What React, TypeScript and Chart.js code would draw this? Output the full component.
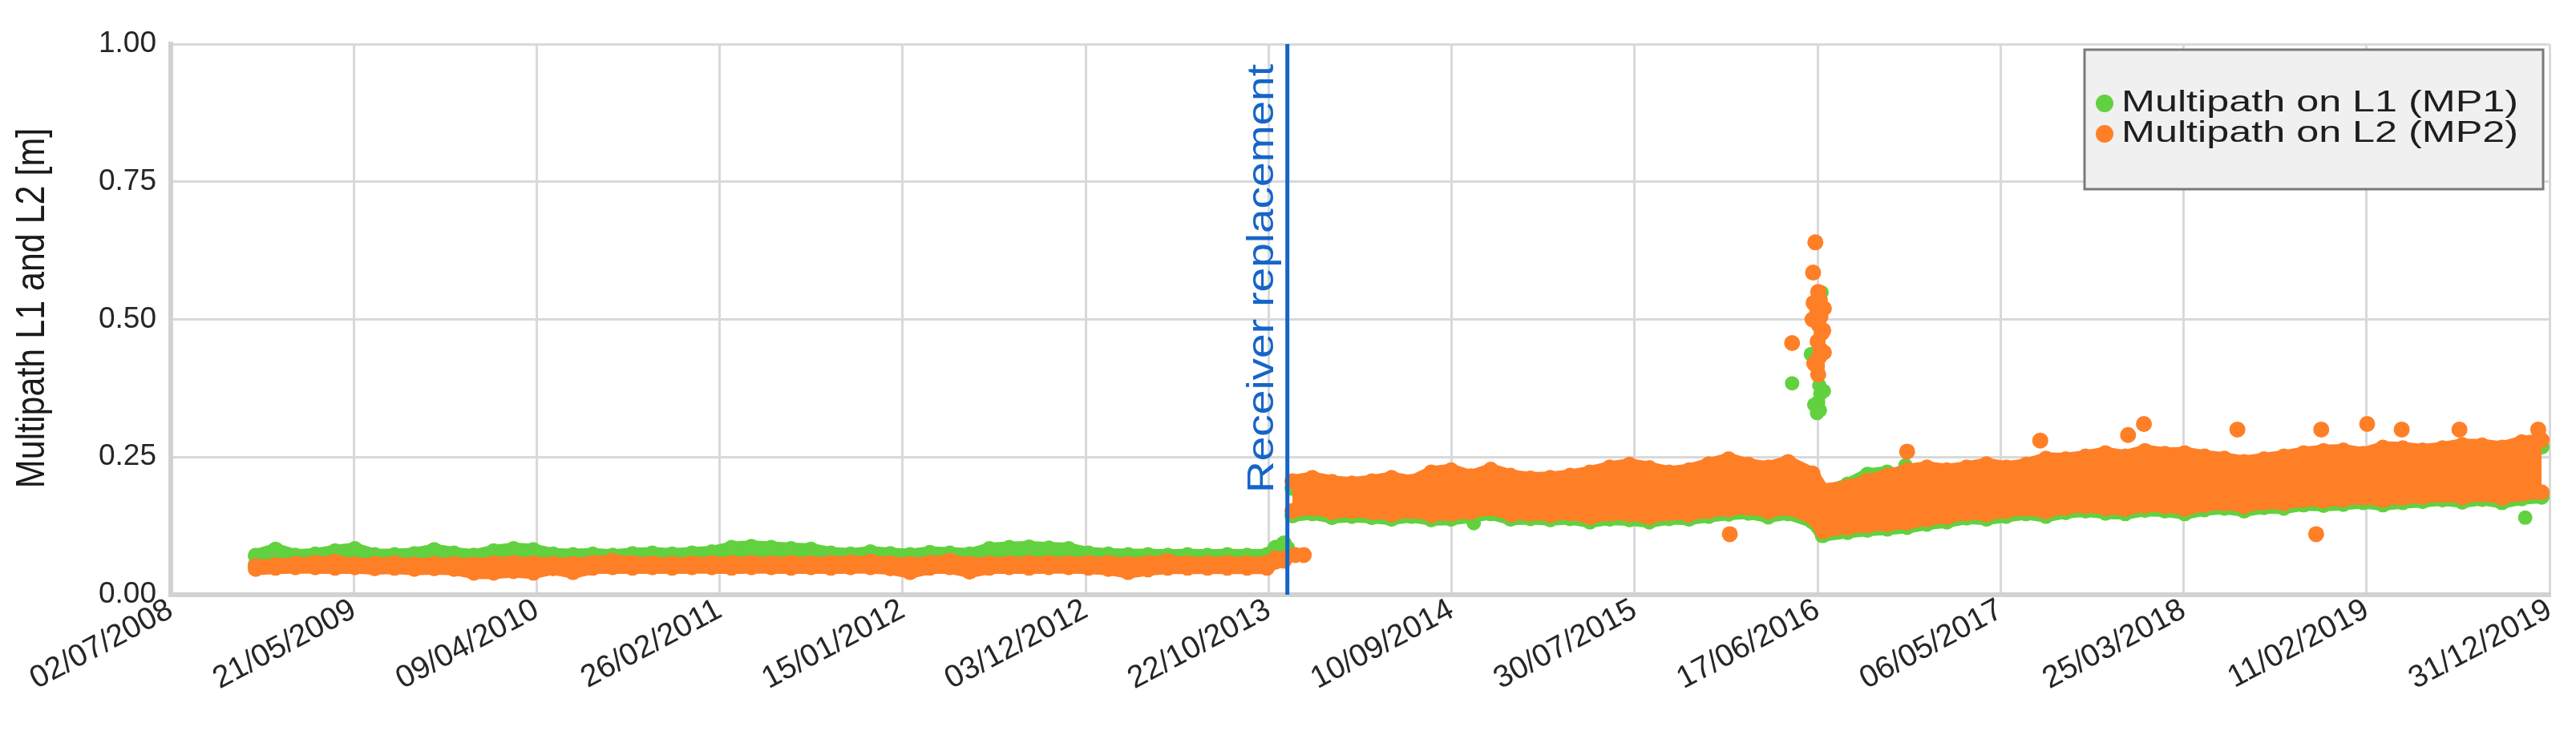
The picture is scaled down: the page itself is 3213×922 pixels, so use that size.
import React, { useEffect, useRef } from "react";
import { Chart, registerables } from "chart.js";

Chart.register(...registerables);

// ---------- text / categories ----------
const tickDates = [
  "02/07/2008", "21/05/2009", "09/04/2010", "26/02/2011", "15/01/2012",
  "03/12/2012", "22/10/2013", "10/09/2014", "30/07/2015", "17/06/2016",
  "06/05/2017", "25/03/2018", "11/02/2019", "31/12/2019",
];
const yTicks = [0, 0.25, 0.5, 0.75, 1];
const yTitle = "Multipath L1 and L2 [m]";
const seriesNames = ["Multipath on L1 (MP1)", "Multipath on L2 (MP2)"];
const seriesColors = ["#62d13f", "#ff7f27"];
const replacementDay = 1971; // days after 02/07/2008
const replacementLabel = "Receiver replacement";

// ---------- data: days after 02/07/2008 ----------
const preDays = [
  150, 185, 220, 255, 290, 325, 360, 395, 430, 465, 500, 535, 570, 605, 640, 675, 710, 745, 780, 815,
  850, 885, 920, 955, 990, 1025, 1060, 1095, 1130, 1165, 1200, 1235, 1270, 1305, 1340, 1375, 1410, 1445, 1480, 1515,
  1550, 1585, 1620, 1655, 1690, 1725, 1760, 1795, 1830, 1865, 1900, 1935, 1950, 1965,
];
const mp2PreLo = [
  0.047, 0.049, 0.05, 0.05, 0.049, 0.05, 0.048, 0.049, 0.047, 0.048, 0.047, 0.04, 0.04, 0.043, 0.04, 0.048, 0.041, 0.049, 0.05, 0.049,
  0.05, 0.049, 0.05, 0.05, 0.049, 0.05, 0.05, 0.049, 0.05, 0.049, 0.05, 0.05, 0.048, 0.041, 0.049, 0.05, 0.042, 0.049, 0.05, 0.049,
  0.05, 0.05, 0.049, 0.047, 0.041, 0.046, 0.049, 0.049, 0.049, 0.049, 0.049, 0.049, 0.06, 0.062,
];
const mp2PreHi = [
  0.052, 0.054, 0.056, 0.058, 0.06, 0.055, 0.056, 0.057, 0.055, 0.056, 0.056, 0.055, 0.057, 0.058, 0.057, 0.056, 0.056, 0.058, 0.062, 0.058,
  0.057, 0.056, 0.057, 0.057, 0.058, 0.058, 0.057, 0.058, 0.057, 0.058, 0.059, 0.06, 0.057, 0.056, 0.058, 0.062, 0.056, 0.057, 0.057, 0.058,
  0.058, 0.057, 0.058, 0.058, 0.056, 0.058, 0.061, 0.057, 0.057, 0.058, 0.057, 0.058, 0.066, 0.066,
];
const mp1PreLo = [
  0.055, 0.056, 0.056, 0.056, 0.057, 0.057, 0.056, 0.056, 0.056, 0.056, 0.056, 0.055, 0.055, 0.056, 0.056, 0.056, 0.056, 0.057, 0.057, 0.057,
  0.057, 0.057, 0.057, 0.057, 0.058, 0.058, 0.058, 0.058, 0.058, 0.057, 0.057, 0.057, 0.057, 0.056, 0.057, 0.057, 0.056, 0.058, 0.058, 0.058,
  0.058, 0.058, 0.057, 0.057, 0.056, 0.056, 0.057, 0.057, 0.057, 0.057, 0.057, 0.057, 0.062, 0.066,
];
const mp1PreHi = [
  0.071, 0.082, 0.071, 0.073, 0.079, 0.083, 0.072, 0.072, 0.074, 0.081, 0.075, 0.071, 0.079, 0.083, 0.081, 0.073, 0.072, 0.073, 0.071, 0.074,
  0.075, 0.073, 0.075, 0.077, 0.085, 0.087, 0.085, 0.083, 0.082, 0.075, 0.073, 0.077, 0.074, 0.072, 0.076, 0.075, 0.073, 0.083, 0.085, 0.086,
  0.084, 0.083, 0.075, 0.073, 0.072, 0.072, 0.071, 0.072, 0.071, 0.072, 0.071, 0.072, 0.085, 0.093,
];

const postDays = [
  1980, 2015, 2050, 2085, 2120, 2155, 2190, 2225, 2260, 2295, 2330, 2365, 2400, 2435, 2470, 2505, 2540, 2575, 2610, 2645,
  2680, 2715, 2750, 2785, 2820, 2855, 2898, 2916, 2960, 2995, 3030, 3065, 3100, 3135, 3170, 3205, 3240, 3275, 3310, 3345,
  3380, 3415, 3450, 3485, 3520, 3555, 3590, 3625, 3660, 3695, 3730, 3765, 3800, 3835, 3870, 3905, 3940, 3975, 4010, 4045,
  4080, 4115, 4150, 4185,
];
const mp2PostLo = [
  0.152, 0.157, 0.15, 0.152, 0.15, 0.146, 0.152, 0.145, 0.147, 0.15, 0.157, 0.146, 0.147, 0.145, 0.148, 0.141, 0.147, 0.146, 0.141, 0.148,
  0.146, 0.152, 0.155, 0.158, 0.151, 0.157, 0.14, 0.115, 0.122, 0.126, 0.128, 0.131, 0.137, 0.141, 0.148, 0.146, 0.152, 0.156, 0.151, 0.158,
  0.161, 0.157, 0.156, 0.162, 0.161, 0.156, 0.163, 0.166, 0.161, 0.167, 0.166, 0.172, 0.171, 0.173, 0.176, 0.172, 0.176, 0.178, 0.181, 0.177,
  0.182, 0.176, 0.183, 0.186,
];
const mp2PostHi = [
  0.206, 0.212, 0.205, 0.202, 0.206, 0.212, 0.205, 0.222, 0.226, 0.215, 0.227, 0.216, 0.211, 0.212, 0.216, 0.222, 0.231, 0.236, 0.23, 0.222,
  0.226, 0.237, 0.246, 0.236, 0.231, 0.241, 0.22, 0.19, 0.196, 0.207, 0.216, 0.226, 0.231, 0.226, 0.231, 0.237, 0.231, 0.236, 0.247, 0.246,
  0.251, 0.257, 0.251, 0.261, 0.256, 0.257, 0.251, 0.247, 0.241, 0.246, 0.251, 0.257, 0.261, 0.262, 0.256, 0.267, 0.266, 0.262, 0.266, 0.272,
  0.271, 0.267, 0.277, 0.281,
];
const mp1PostLo = [
  0.144, 0.148, 0.141, 0.143, 0.141, 0.138, 0.143, 0.137, 0.138, 0.142, 0.148, 0.138, 0.139, 0.137, 0.139, 0.133, 0.138, 0.137, 0.133, 0.139,
  0.138, 0.143, 0.147, 0.149, 0.142, 0.148, 0.133, 0.108, 0.114, 0.118, 0.12, 0.123, 0.129, 0.133, 0.14, 0.138, 0.143, 0.148, 0.143, 0.15,
  0.153, 0.149, 0.148, 0.154, 0.153, 0.148, 0.155, 0.158, 0.153, 0.159, 0.158, 0.164, 0.163, 0.165, 0.168, 0.164, 0.168, 0.17, 0.173, 0.169,
  0.174, 0.168, 0.175, 0.178,
];
const mp1PostHi = [
  0.194, 0.2, 0.193, 0.19, 0.194, 0.2, 0.193, 0.21, 0.214, 0.203, 0.215, 0.204, 0.199, 0.2, 0.204, 0.21, 0.219, 0.224, 0.218, 0.21,
  0.214, 0.225, 0.234, 0.224, 0.219, 0.229, 0.208, 0.185, 0.2, 0.218, 0.222, 0.214, 0.219, 0.214, 0.219, 0.225, 0.219, 0.224, 0.235, 0.234,
  0.239, 0.245, 0.239, 0.249, 0.244, 0.245, 0.239, 0.235, 0.229, 0.234, 0.239, 0.245, 0.249, 0.25, 0.244, 0.255, 0.254, 0.25, 0.254, 0.26,
  0.259, 0.255, 0.265, 0.269,
];

// individual scattered points (outliers / spike of June 2016)
const mp2OutDays = [
  1985, 2000, 2752, 2903, 2899, 2908, 2911, 2906, 2912, 2909, 2914, 2907, 2912, 2909, 2906, 2908, 2862,
  2918, 2917, 2918, 2900, 2898, 2901,
  3065, 3300, 3455, 3483, 3648, 3787, 3796, 3877, 3938, 4040, 4179,
];
const mp2OutVals = [
  0.072, 0.072, 0.11, 0.64, 0.585, 0.55, 0.535, 0.52, 0.505, 0.49, 0.475, 0.46, 0.445, 0.43, 0.415, 0.4, 0.457,
  0.52, 0.48, 0.44, 0.53, 0.5, 0.42,
  0.26, 0.28, 0.29, 0.31, 0.3, 0.11, 0.3, 0.31, 0.3, 0.3, 0.3,
];
const mp1OutDays = [1960, 1972, 2300, 2862, 2895, 2914, 2910, 2912, 2908, 2911, 2906, 2918, 2901, 3062, 4156];
const mp1OutVals = [0.09, 0.085, 0.13, 0.384, 0.437, 0.549, 0.38, 0.365, 0.35, 0.335, 0.33, 0.37, 0.345, 0.235, 0.14];

// ---------- helpers ----------
const dayOf = (s: string) => {
  const [d, m, y] = s.split("/").map(Number);
  const [d0, m0, y0] = tickDates[0].split("/").map(Number);
  return Math.round((Date.UTC(y, m - 1, d) - Date.UTC(y0, m0 - 1, d0)) / 86400000);
};
const tickDays = tickDates.map(dayOf);

const pts = (days: number[], vals: number[]) => days.map((d, i) => ({ x: d, y: vals[i] }));
const band = (preD: number[], preV: number[], postD: number[], postV: number[]) => [
  ...pts(preD, preV),
  { x: (preD[preD.length - 1] + postD[0]) / 2, y: null as any },
  ...pts(postD, postV),
];

const FONT = "'Liberation Sans', Arial, sans-serif";

const overlayPlugin = {
  id: "overlay",
  afterDatasetsDraw(chart: any) {
    const { ctx, chartArea, scales } = chart;
    const x = scales.x.getPixelForValue(replacementDay);
    ctx.save();
    ctx.strokeStyle = "#1565c8";
    ctx.lineWidth = 5;
    ctx.beginPath();
    ctx.moveTo(x, chartArea.top);
    ctx.lineTo(x, chartArea.bottom);
    ctx.stroke();
    ctx.translate(x - 30, chartArea.top + 560);
    ctx.rotate(-Math.PI / 2);
    ctx.scale(1.25, 1.05);
    ctx.fillStyle = "#1565c8";
    ctx.font = `44px ${FONT}`;
    ctx.textAlign = "left";
    ctx.textBaseline = "middle";
    ctx.fillText(replacementLabel, 0, 0);
    ctx.restore();
  },
  afterDraw(chart: any) {
    const { ctx, chartArea } = chart;
    // y-axis title
    ctx.save();
    ctx.translate(41, (chartArea.top + chartArea.bottom) / 2 - 14);
    ctx.rotate(-Math.PI / 2);
    ctx.scale(1, 1.15);
    ctx.fillStyle = "#1a1a1a";
    ctx.font = `43px ${FONT}`;
    ctx.textAlign = "center";
    ctx.textBaseline = "middle";
    ctx.fillText(yTitle, 0, 0);
    ctx.restore();
    // legend
    const bx = 2600, by = 62, bw = 572, bh = 174;
    ctx.save();
    ctx.fillStyle = "#f0f0f0";
    ctx.fillRect(bx, by, bw, bh);
    ctx.strokeStyle = "#7a7a7a";
    ctx.lineWidth = 3;
    ctx.strokeRect(bx, by, bw, bh);
    ctx.font = `37px ${FONT}`;
    ctx.textBaseline = "middle";
    ctx.textAlign = "left";
    seriesNames.forEach((name, i) => {
      const cy = by + 67 + i * 38;
      ctx.fillStyle = seriesColors[i];
      ctx.beginPath();
      ctx.arc(bx + 25, cy, 11, 0, Math.PI * 2);
      ctx.fill();
      ctx.save();
      ctx.translate(bx + 46, cy);
      ctx.scale(1.36, 1);
      ctx.fillStyle = "#1e1e1e";
      ctx.fillText(name, 0, 0);
      ctx.restore();
    });
    ctx.restore();
  },
};

const lineStyle = (color: string) => ({
  borderColor: color,
  backgroundColor: color,
  pointBackgroundColor: color,
  pointBorderWidth: 0,
  pointRadius: 10,
  borderWidth: 16,
  borderCapStyle: "round" as const,
  borderJoinStyle: "round" as const,
  spanGaps: false,
  showLine: true,
});

export default function App() {
  const ref = useRef<HTMLCanvasElement | null>(null);
  useEffect(() => {
    if (!ref.current) return;
    const [g, o] = seriesColors;
    const chart = new Chart(ref.current, {
      type: "scatter",
      data: {
        datasets: [
          { label: seriesNames[1] + " low", data: band(preDays, mp2PreLo, postDays, mp2PostLo), ...lineStyle(o), fill: false, order: 1 },
          { label: seriesNames[1], data: band(preDays, mp2PreHi, postDays, mp2PostHi), ...lineStyle(o), fill: "-1", order: 1 },
          { label: seriesNames[0] + " low", data: band(preDays, mp1PreLo, postDays, mp1PostLo), ...lineStyle(g), fill: false, order: 3 },
          { label: seriesNames[0], data: band(preDays, mp1PreHi, postDays, mp1PostHi), ...lineStyle(g), fill: "-1", order: 3 },
          { label: seriesNames[1] + " pts", data: pts(mp2OutDays, mp2OutVals), backgroundColor: o, pointRadius: 10, pointBorderWidth: 0, showLine: false, order: 0 },
          { label: seriesNames[0] + " pts", data: pts(mp1OutDays, mp1OutVals), backgroundColor: g, pointRadius: 9, pointBorderWidth: 0, showLine: false, order: 2 },
        ],
      },
      options: {
        animation: false,
        responsive: false,
        maintainAspectRatio: false,
        layout: { padding: { top: 55, right: 33, left: 0, bottom: 0 } },
        plugins: { legend: { display: false }, tooltip: { enabled: false } },
        elements: { point: { hoverRadius: 10 } },
        scales: {
          x: {
            type: "linear",
            min: tickDays[0],
            max: tickDays[tickDays.length - 1],
            afterBuildTicks: (scale: any) => {
              scale.ticks = tickDays.map((v) => ({ value: v }));
            },
            afterFit: (scale: any) => {
              scale.height = 180;
            },
            grid: { color: "#d9d9d9", lineWidth: 3, drawTicks: false },
            border: { display: true, color: "#d2d2d2", width: 6 },
            ticks: {
              autoSkip: false,
              minRotation: 28,
              maxRotation: 28,
              padding: -4,
              color: "#262626",
              font: { family: FONT, size: 39 },
              callback: (_v: any, i: number) => tickDates[i],
            },
          },
          y: {
            min: 0,
            max: 1,
            afterBuildTicks: (scale: any) => {
              scale.ticks = yTicks.map((v) => ({ value: v }));
            },
            afterFit: (scale: any) => {
              scale.width = 213;
            },
            grid: { color: "#d9d9d9", lineWidth: 3, drawTicks: false },
            border: { display: true, color: "#d2d2d2", width: 6 },
            ticks: {
              padding: 18,
              color: "#262626",
              font: { family: FONT, size: 37 },
              callback: (v: any) => Number(v).toFixed(2),
            },
          },
        },
      },
      plugins: [overlayPlugin],
    });
    return () => chart.destroy();
  }, []);
  return (
    <div style={{ position: "absolute", left: 0, top: 0, width: 3213, height: 922, background: "#ffffff" }}>
      <canvas ref={ref} width={3213} height={922} style={{ display: "block" }} />
    </div>
  );
}
